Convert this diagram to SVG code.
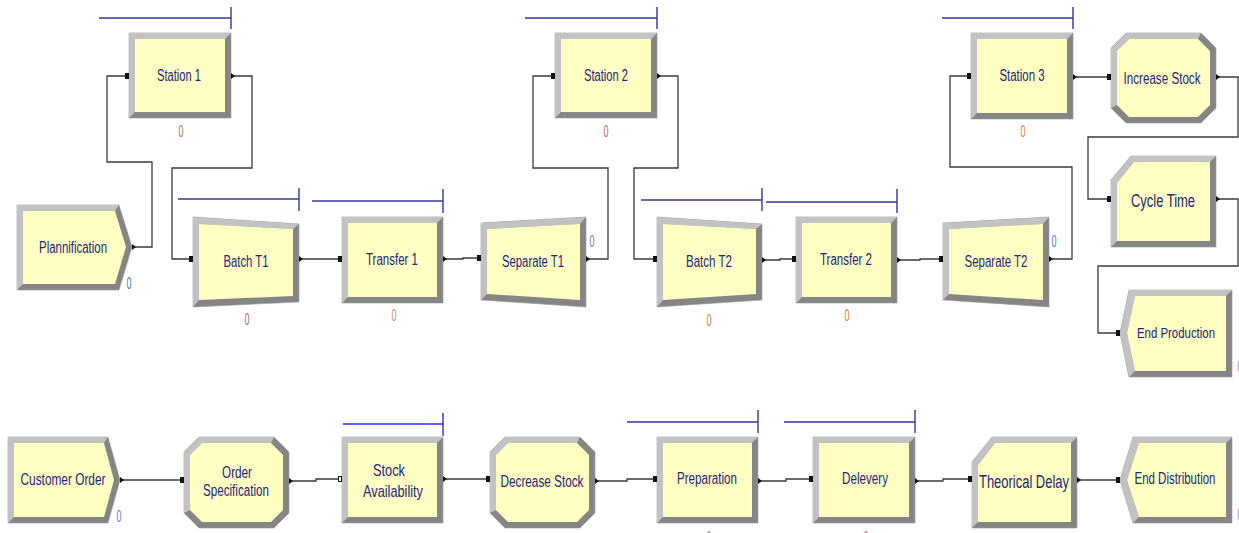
<svg xmlns="http://www.w3.org/2000/svg" width="1239" height="533" viewBox="0 0 1239 533">
<style>
.dk{fill:#858585;stroke:#9a9a9a;stroke-width:0.6}
.lt{fill:#c2c2c2}
.in{fill:#ffffc4}
.lbl{font-family:"Liberation Sans",Arial,sans-serif;font-size:16px;fill:#25257a;text-anchor:middle}
.q{stroke:#36369f;stroke-width:1.4;fill:none}
.cn{stroke:#3a3a3a;stroke-width:1.3;fill:none}
.cnt{font-family:"Liberation Sans",Arial,sans-serif;font-size:16px;text-anchor:middle}
.pi{fill:#111}
.po{fill:#111}
</style>
<rect width="1239" height="533" fill="#ffffff"/>
<g id="connectors">
<polyline class="cn" points="132,247 152,247 152,162 107,162 107,76 129,76"/>
<polyline class="cn" points="231,76 252,76 252,168 172,168 172,259 193,259"/>
<polyline class="cn" points="299,259 342,259"/>
<polyline class="cn" points="443,259 463,259 463,258 481,258"/>
<polyline class="cn" points="586,259 608,259 608,168 533,168 533,76 555,76"/>
<polyline class="cn" points="657,76 678,76 678,168 634,168 634,259 657,259"/>
<polyline class="cn" points="762,260 780,260 780,259 796,259"/>
<polyline class="cn" points="897,260 920,260 920,259 943,259"/>
<polyline class="cn" points="1049,259 1072,259 1072,167 950,167 950,76 971,76"/>
<polyline class="cn" points="1073,77 1111,77"/>
<polyline class="cn" points="1216,77 1238,77 1238,137 1088,137 1088,199 1111,199"/>
<polyline class="cn" points="1216,199 1238,199 1238,266 1098,266 1098,333 1120,333"/>
<polyline class="cn" points="120,480 184,480"/>
<polyline class="cn" points="289,481 316,481 316,479 342,479"/>
<polyline class="cn" points="443,479 490,479"/>
<polyline class="cn" points="595,481 627,481 627,479 657,479"/>
<polyline class="cn" points="758,481 786,481 786,479 813,479"/>
<polyline class="cn" points="915,481 943,481 943,479 972,479"/>
<polyline class="cn" points="1077,480 1120,480"/>
</g>

<g id="station1">
<polyline class="q" points="99,18 231,18"/><line class="q" x1="231" y1="7" x2="231" y2="29"/>
<rect class="dk" x="129" y="33" width="102" height="85"/>
<polygon class="lt" points="129,33 231,33 225,39 135,39 135,112 129,118"/>
<rect class="in" x="135" y="39" width="90" height="73"/>
<text class="lbl" x="179" y="81" textLength="44" lengthAdjust="spacingAndGlyphs">Station 1</text>
<text class="cnt" x="181" y="137" fill="#c46a5a" textLength="5" lengthAdjust="spacingAndGlyphs">0</text>
<rect class="pi" x="125" y="73" width="4" height="6"/><polygon class="po" points="231,73 235,76 231,79"/>
</g>

<g id="plannification">
<polygon class="dk" points="17,205 119,205 132,247 119,290 17,290"/>
<polygon class="lt" points="17,205 119,205 115,211 23,211 23,284 17,290"/>
<polygon class="in" points="23,211 115,211 126,247 115,284 23,284"/>
<text class="lbl" x="73" y="253" textLength="68" lengthAdjust="spacingAndGlyphs">Plannification</text>
<text class="cnt" x="129" y="289" fill="#3a7fd8" textLength="5" lengthAdjust="spacingAndGlyphs">0</text>
<polygon class="po" points="132,244 136,247 132,250"/>
</g>

<g id="batchT1">
<polyline class="q" points="178,199 299,199"/><line class="q" x1="299" y1="188" x2="299" y2="211"/>
<polygon class="dk" points="193,217 299,224 299,302 193,307"/>
<polygon class="lt" points="193,217 299,224 293,229 199,224 199,300 193,307"/>
<polygon class="in" points="199,224 293,229 293,296 199,300"/>
<text class="lbl" x="246" y="267" textLength="45" lengthAdjust="spacingAndGlyphs">Batch T1</text>
<text class="cnt" x="247" y="325" fill="#9a68a8" textLength="5" lengthAdjust="spacingAndGlyphs">0</text>
<rect class="pi" x="189" y="256" width="4" height="6"/><polygon class="po" points="299,256 303,259 299,262"/>
</g>

<g id="transfer1">
<polyline class="q" points="312,201 443,201"/><line class="q" x1="443" y1="189" x2="443" y2="213"/>
<rect class="dk" x="342" y="217" width="101" height="86"/>
<polygon class="lt" points="342,217 443,217 437,223 348,223 348,297 342,303"/>
<rect class="in" x="348" y="223" width="89" height="74"/>
<text class="lbl" x="392" y="265" textLength="52" lengthAdjust="spacingAndGlyphs">Transfer 1</text>
<text class="cnt" x="394" y="321" fill="#c88a6a" textLength="5" lengthAdjust="spacingAndGlyphs">0</text>
<rect class="pi" x="338" y="256" width="4" height="6"/><polygon class="po" points="443,256 447,259 443,262"/>
</g>

<g id="separateT1">
<polygon class="dk" points="481,223 586,217 586,307 481,300"/>
<polygon class="lt" points="481,223 586,217 580,224 487,229 487,294 481,300"/>
<polygon class="in" points="487,229 580,224 580,300 487,294"/>
<text class="lbl" x="533" y="267" textLength="62" lengthAdjust="spacingAndGlyphs">Separate T1</text>
<text class="cnt" x="592" y="247" fill="#7a72c8" textLength="5" lengthAdjust="spacingAndGlyphs">0</text>
<rect class="pi" x="477" y="255" width="4" height="6"/><polygon class="po" points="586,256 590,259 586,262"/>
</g>

<g id="station2">
<polyline class="q" points="525,18 657,18"/><line class="q" x1="657" y1="7" x2="657" y2="29"/>
<rect class="dk" x="555" y="33" width="102" height="85"/>
<polygon class="lt" points="555,33 657,33 651,39 561,39 561,112 555,118"/>
<rect class="in" x="561" y="39" width="90" height="73"/>
<text class="lbl" x="606" y="81" textLength="44" lengthAdjust="spacingAndGlyphs">Station 2</text>
<text class="cnt" x="606" y="137" fill="#c46a5a" textLength="5" lengthAdjust="spacingAndGlyphs">0</text>
<rect class="pi" x="551" y="73" width="4" height="6"/><polygon class="po" points="657,73 661,76 657,79"/>
</g>

<g id="batchT2">
<polyline class="q" points="641,200 762,200"/><line class="q" x1="762" y1="188" x2="762" y2="211"/>
<polygon class="dk" points="657,217 762,224 762,300 657,307"/>
<polygon class="lt" points="657,217 762,224 756,229 663,224 663,300 657,307"/>
<polygon class="in" points="663,224 756,229 756,294 663,300"/>
<text class="lbl" x="709" y="267" textLength="46" lengthAdjust="spacingAndGlyphs">Batch T2</text>
<text class="cnt" x="709" y="326" fill="#e07a30" textLength="5" lengthAdjust="spacingAndGlyphs">0</text>
<rect class="pi" x="653" y="256" width="4" height="6"/><polygon class="po" points="762,257 766,260 762,263"/>
</g>

<g id="transfer2">
<polyline class="q" points="766,202 897,202"/><line class="q" x1="897" y1="189" x2="897" y2="213"/>
<rect class="dk" x="796" y="217" width="101" height="86"/>
<polygon class="lt" points="796,217 897,217 891,223 802,223 802,297 796,303"/>
<rect class="in" x="802" y="223" width="89" height="74"/>
<text class="lbl" x="846" y="265" textLength="52" lengthAdjust="spacingAndGlyphs">Transfer 2</text>
<text class="cnt" x="847" y="321" fill="#e07a30" textLength="5" lengthAdjust="spacingAndGlyphs">0</text>
<rect class="pi" x="792" y="256" width="4" height="6"/><polygon class="po" points="897,257 901,260 897,263"/>
</g>

<g id="separateT2">
<polygon class="dk" points="943,223 1049,217 1049,307 943,300"/>
<polygon class="lt" points="943,223 1049,217 1043,224 949,229 949,294 943,300"/>
<polygon class="in" points="949,229 1043,224 1043,300 949,294"/>
<text class="lbl" x="996" y="267" textLength="63" lengthAdjust="spacingAndGlyphs">Separate T2</text>
<text class="cnt" x="1054" y="247" fill="#3f86e0" textLength="5" lengthAdjust="spacingAndGlyphs">0</text>
<rect class="pi" x="939" y="256" width="4" height="6"/><polygon class="po" points="1049,256 1053,259 1049,262"/>
</g>

<g id="station3">
<polyline class="q" points="942,18 1073,18"/><line class="q" x1="1073" y1="7" x2="1073" y2="29"/>
<rect class="dk" x="971" y="33" width="102" height="86"/>
<polygon class="lt" points="971,33 1073,33 1067,39 977,39 977,113 971,119"/>
<rect class="in" x="977" y="39" width="90" height="74"/>
<text class="lbl" x="1022" y="81" textLength="45" lengthAdjust="spacingAndGlyphs">Station 3</text>
<text class="cnt" x="1023" y="137" fill="#e07a50" textLength="5" lengthAdjust="spacingAndGlyphs">0</text>
<rect class="pi" x="967" y="73" width="4" height="6"/><polygon class="po" points="1073,74 1077,77 1073,80"/>
</g>

<g id="increaseStock">
<polygon class="dk" points="1126,33 1201,33 1216,48 1216,108 1201,123 1126,123 1111,108 1111,48"/>
<polygon class="lt" points="1111,108 1111,48 1126,33 1201,33 1198,39 1129,39 1117,51 1117,105"/>
<polygon class="in" points="1129,39 1198,39 1210,51 1210,105 1198,117 1129,117 1117,105 1117,51"/>
<text class="lbl" x="1162" y="84" textLength="77" lengthAdjust="spacingAndGlyphs">Increase Stock</text>
<rect class="pi" x="1107" y="74" width="4" height="6"/><polygon class="po" points="1216,74 1220,77 1216,80"/>
</g>

<g id="cycleTime">
<polygon class="dk" points="1131,156 1216,156 1216,247 1111,247 1111,180"/>
<polygon class="lt" points="1111,247 1111,180 1131,156 1216,156 1210,162 1134,162 1117,183 1117,241"/>
<polygon class="in" points="1134,162 1210,162 1210,241 1117,241 1117,183"/>
<text class="lbl" x="1163" y="207" style="font-size:18px" textLength="64" lengthAdjust="spacingAndGlyphs">Cycle Time</text>
<rect class="pi" x="1107" y="196" width="4" height="6"/><polygon class="po" points="1216,196 1220,199 1216,202"/>
</g>

<g id="endProduction">
<polygon class="dk" points="1129,290 1232,290 1232,377 1129,377 1120,333"/>
<polygon class="lt" points="1120,333 1129,290 1232,290 1226,296 1135,296 1127,333 1135,371 1129,377"/>
<polygon class="in" points="1135,296 1226,296 1226,371 1135,371 1127,333"/>
<text class="lbl" x="1176" y="338" style="font-size:15px" textLength="78" lengthAdjust="spacingAndGlyphs">End Production</text>
<text class="cnt" x="1240" y="372" fill="#a070b0" textLength="5" lengthAdjust="spacingAndGlyphs">0</text>
<rect class="pi" x="1116" y="330" width="4" height="6"/>
</g>

<g id="customerOrder">
<polygon class="dk" points="8,437 108,437 120,480 108,523 8,523"/>
<polygon class="lt" points="8,437 108,437 104,443 14,443 14,517 8,523"/>
<polygon class="in" points="14,443 104,443 114,480 104,517 14,517"/>
<text class="lbl" x="63" y="485" textLength="85" lengthAdjust="spacingAndGlyphs">Customer Order</text>
<text class="cnt" x="119" y="522" fill="#7a72c8" textLength="5" lengthAdjust="spacingAndGlyphs">0</text>
<polygon class="po" points="120,477 124,480 120,483"/>
</g>

<g id="orderSpecification">
<polygon class="dk" points="199,437 274,437 289,452 289,513 274,528 199,528 184,513 184,452"/>
<polygon class="lt" points="184,513 184,452 199,437 274,437 271,443 202,443 190,455 190,510"/>
<polygon class="in" points="202,443 271,443 283,455 283,510 271,522 202,522 190,510 190,455"/>
<text class="lbl" x="237" y="478" textLength="30" lengthAdjust="spacingAndGlyphs">Order</text>
<text class="lbl" x="236" y="496" textLength="66" lengthAdjust="spacingAndGlyphs">Specification</text>
<rect class="pi" x="180" y="477" width="4" height="6"/><polygon class="po" points="289,478 293,481 289,484"/>
</g>

<g id="stockAvailability">
<polyline class="q" points="343,424 443,424" style="stroke:#2a2ae6"/><line class="q" x1="443" y1="413" x2="443" y2="436" style="stroke:#2a2ae6"/>
<rect class="dk" x="342" y="437" width="101" height="86"/>
<polygon class="lt" points="342,437 443,437 437,443 348,443 348,517 342,523"/>
<rect class="in" x="348" y="443" width="89" height="74"/>
<text class="lbl" x="389" y="476" style="font-size:17px" textLength="32" lengthAdjust="spacingAndGlyphs">Stock</text>
<text class="lbl" x="393" y="497" style="font-size:17px" textLength="60" lengthAdjust="spacingAndGlyphs">Availability</text>
<rect x="338.5" y="476.5" width="3" height="5" fill="#fff" stroke="#111" stroke-width="1"/><polygon class="po" points="443,476 447,479 443,482"/>
</g>

<g id="decreaseStock">
<polygon class="dk" points="505,437 580,437 595,452 595,513 580,528 505,528 490,513 490,452"/>
<polygon class="lt" points="490,513 490,452 505,437 580,437 577,443 508,443 496,455 496,510"/>
<polygon class="in" points="508,443 577,443 589,455 589,510 577,522 508,522 496,510 496,455"/>
<text class="lbl" x="542" y="487" textLength="83" lengthAdjust="spacingAndGlyphs">Decrease Stock</text>
<rect class="pi" x="486" y="476" width="4" height="6"/><polygon class="po" points="595,478 599,481 595,484"/>
</g>

<g id="preparation">
<polyline class="q" points="627,422 758,422"/><line class="q" x1="758" y1="410" x2="758" y2="433"/>
<rect class="dk" x="657" y="437" width="101" height="86"/>
<polygon class="lt" points="657,437 758,437 752,443 663,443 663,517 657,523"/>
<rect class="in" x="663" y="443" width="89" height="74"/>
<text class="lbl" x="707" y="484" textLength="60" lengthAdjust="spacingAndGlyphs">Preparation</text>
<text class="cnt" x="709" y="543" fill="#c46a8a" textLength="5" lengthAdjust="spacingAndGlyphs">0</text>
<rect class="pi" x="653" y="476" width="4" height="6"/><polygon class="po" points="758,478 762,481 758,484"/>
</g>

<g id="delevery">
<polyline class="q" points="784,422 915,422"/><line class="q" x1="915" y1="410" x2="915" y2="433"/>
<rect class="dk" x="813" y="437" width="102" height="86"/>
<polygon class="lt" points="813,437 915,437 909,443 819,443 819,517 813,523"/>
<rect class="in" x="819" y="443" width="90" height="74"/>
<text class="lbl" x="865" y="484" textLength="46" lengthAdjust="spacingAndGlyphs">Delevery</text>
<text class="cnt" x="866" y="543" fill="#c46a8a" textLength="5" lengthAdjust="spacingAndGlyphs">0</text>
<rect class="pi" x="809" y="476" width="4" height="6"/><polygon class="po" points="915,478 919,481 915,484"/>
</g>

<g id="theoricalDelay">
<polygon class="dk" points="992,437 1077,437 1077,528 972,528 972,462"/>
<polygon class="lt" points="972,528 972,462 992,437 1077,437 1071,443 995,443 978,465 978,522"/>
<polygon class="in" points="995,443 1071,443 1071,522 978,522 978,465"/>
<text class="lbl" x="1024" y="488" style="font-size:18px" textLength="90" lengthAdjust="spacingAndGlyphs">Theorical Delay</text>
<rect class="pi" x="968" y="476" width="4" height="6"/><polygon class="po" points="1077,477 1081,480 1077,483"/>
</g>

<g id="endDistribution">
<polygon class="dk" points="1133,437 1232,437 1232,523 1133,523 1120,480"/>
<polygon class="lt" points="1120,480 1133,437 1232,437 1226,443 1139,443 1127,480 1139,517 1133,523"/>
<polygon class="in" points="1139,443 1226,443 1226,517 1139,517 1127,480"/>
<text class="lbl" x="1175" y="484" textLength="81" lengthAdjust="spacingAndGlyphs">End Distribution</text>
<text class="cnt" x="1240" y="520" fill="#c46a9a" textLength="5" lengthAdjust="spacingAndGlyphs">0</text>
<rect class="pi" x="1116" y="477" width="4" height="6"/>
</g>
</svg>
